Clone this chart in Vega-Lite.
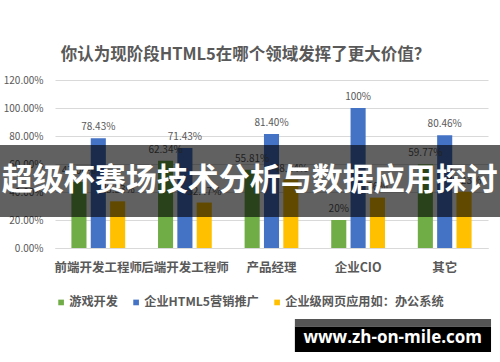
{
  "$schema": "https://vega.github.io/schema/vega-lite/v6.json",
  "width": 433,
  "height": 168,
  "autosize": {"type": "none"},
  "padding": {"left": 55, "top": 80, "right": 12, "bottom": 114},
  "background": "white",
  "config": {
    "view": {"stroke": null},
    "font": "Noto Sans CJK SC"
  },
  "title": {
    "text": "你认为现阶段HTML5在哪个领域发挥了更大价值？",
    "font": "Noto Sans CJK SC",
    "fontSize": 16.5,
    "fontWeight": "bold",
    "color": "#595959",
    "anchor": "middle",
    "offset": 12,
    "dx": -26
  },
  "datasets": {
    "survey": [
      {"role": "前端开发工程师", "series": "游戏开发", "value": 0.4706, "label": "47.06%"},
      {"role": "前端开发工程师", "series": "企业HTML5营销推广", "value": 0.7843, "label": "78.43%"},
      {"role": "前端开发工程师", "series": "企业级网页应用如：办公系统", "value": 0.3333, "label": "33.33%"},
      {"role": "后端开发工程师", "series": "游戏开发", "value": 0.6234, "label": "62.34%"},
      {"role": "后端开发工程师", "series": "企业HTML5营销推广", "value": 0.7143, "label": "71.43%"},
      {"role": "后端开发工程师", "series": "企业级网页应用如：办公系统", "value": 0.3247, "label": "32.47%"},
      {"role": "产品经理", "series": "游戏开发", "value": 0.5581, "label": "55.81%"},
      {"role": "产品经理", "series": "企业HTML5营销推广", "value": 0.814, "label": "81.40%"},
      {"role": "产品经理", "series": "企业级网页应用如：办公系统", "value": 0.4884, "label": "48.84%"},
      {"role": "企业CIO", "series": "游戏开发", "value": 0.2, "label": "20%"},
      {"role": "企业CIO", "series": "企业HTML5营销推广", "value": 1.0, "label": "100%"},
      {"role": "企业CIO", "series": "企业级网页应用如：办公系统", "value": 0.36, "label": "36%"},
      {"role": "其它", "series": "游戏开发", "value": 0.5977, "label": "59.77%"},
      {"role": "其它", "series": "企业HTML5营销推广", "value": 0.8046, "label": "80.46%"},
      {"role": "其它", "series": "企业级网页应用如：办公系统", "value": 0.4023, "label": "40.23%"}
    ],
    "one": [{"k": 1}]
  },
  "layer": [
    {
      "data": {"name": "survey"},
      "encoding": {
        "x": {
          "field": "role", "type": "nominal",
          "sort": ["前端开发工程师", "后端开发工程师", "产品经理", "企业CIO", "其它"],
          "scale": {"paddingInner": 0.33, "paddingOuter": 0.165},
          "axis": {
            "title": null, "labelAngle": 0, "labelOverlap": false, "labelLimit": 200,
            "labelFontSize": 12.5, "labelFontWeight": "bold", "labelColor": "#595959",
            "labelPadding": 13, "ticks": false, "domain": true, "domainColor": "#d9d9d9",
            "labelFont": "Noto Sans CJK SC"
          }
        },
        "xOffset": {
          "field": "series", "type": "nominal",
          "sort": ["游戏开发", "企业HTML5营销推广", "企业级网页应用如：办公系统"],
          "scale": {"paddingInner": 0.22, "paddingOuter": 0.11}
        },
        "y": {
          "field": "value", "type": "quantitative",
          "scale": {"domain": [0, 1.2], "nice": false},
          "axis": {
            "title": null, "format": ".2%", "values": [0, 0.2, 0.4, 0.6, 0.8, 1.0, 1.2],
            "labelOverlap": false,
            "labelFontSize": 10, "labelColor": "#595959", "labelPadding": 12,
            "ticks": false, "domain": false, "gridColor": "#d9d9d9", "labelFont": "Noto Sans CJK SC"
          }
        }
      },
      "layer": [
        {
          "mark": {"type": "bar"},
          "encoding": {
            "color": {
              "field": "series", "type": "nominal",
              "sort": ["游戏开发", "企业HTML5营销推广", "企业级网页应用如：办公系统"],
              "scale": {"range": ["#70ad47", "#4472c4", "#ffc000"]},
              "legend": {
                "title": null, "orient": "bottom", "direction": "horizontal",
                "symbolType": "square", "symbolSize": 32, "labelFontSize": 12.2,
                "labelOffset": 2, "symbolStrokeWidth": 0,
                "labelFontWeight": "bold", "labelColor": "#595959", "columnPadding": 12,
                "offset": 22, "labelFont": "Noto Sans CJK SC", "labelLimit": 300
              }
            }
          }
        },
        {
          "mark": {"type": "text", "baseline": "bottom", "dy": -6, "fontSize": 10, "color": "#595959"},
          "encoding": {
            "text": {"field": "label", "type": "nominal"}
          }
        }
      ]
    },
    {
      "data": {"name": "one"},
      "mark": {"type": "rect", "color": "black", "opacity": 0.62},
      "encoding": {
        "x": {"datum": -0.13, "type": "quantitative", "scale": {"domain": [0, 1]}, "axis": null},
        "x2": {"datum": 1.03},
        "y": {"datum": 0.736, "type": "quantitative", "scale": {"domain": [0, 1.2], "nice": false}, "axis": null},
        "y2": {"datum": 0.221}
      }
    },
    {
      "data": {"name": "one"},
      "mark": {"type": "text", "color": "white", "fontSize": 31, "fontWeight": "bold", "font": "Noto Sans CJK SC", "align": "center", "baseline": "middle"},
      "encoding": {
        "x": {"datum": 0.45, "type": "quantitative", "scale": {"domain": [0, 1]}, "axis": null},
        "y": {"datum": 0.479, "type": "quantitative", "scale": {"domain": [0, 1.2], "nice": false}, "axis": null},
        "text": {"value": "超级杯赛场技术分析与数据应用探讨"}
      }
    },
    {
      "data": {"name": "one"},
      "mark": {"type": "rect", "color": "black"},
      "encoding": {
        "x": {"datum": 0.554, "type": "quantitative", "scale": {"domain": [0, 1]}, "axis": null},
        "x2": {"datum": 1.007},
        "y": {"datum": -0.56, "type": "quantitative", "scale": {"domain": [0, 1.2], "nice": false}, "axis": null},
        "y2": {"datum": -0.743}
      }
    },
    {
      "data": {"name": "one"},
      "mark": {"type": "rect", "color": "#555555"},
      "encoding": {
        "x": {"datum": 0.554, "type": "quantitative", "scale": {"domain": [0, 1]}, "axis": null},
        "x2": {"datum": 1.007},
        "y": {"datum": -0.507, "type": "quantitative", "scale": {"domain": [0, 1.2], "nice": false}, "axis": null},
        "y2": {"datum": -0.563}
      }
    },
    {
      "data": {"name": "one"},
      "mark": {"type": "text", "color": "white", "fontSize": 17, "fontWeight": "bold", "font": "Open Sans", "align": "center", "baseline": "middle"},
      "encoding": {
        "x": {"datum": 0.78, "type": "quantitative", "scale": {"domain": [0, 1]}, "axis": null},
        "y": {"datum": -0.64, "type": "quantitative", "scale": {"domain": [0, 1.2], "nice": false}, "axis": null},
        "text": {"value": "www.zh-on-mile.com"}
      }
    }
  ],
  "resolve": {"scale": {"x": "independent", "y": "independent"}, "axis": {"x": "independent", "y": "independent"}}
}
